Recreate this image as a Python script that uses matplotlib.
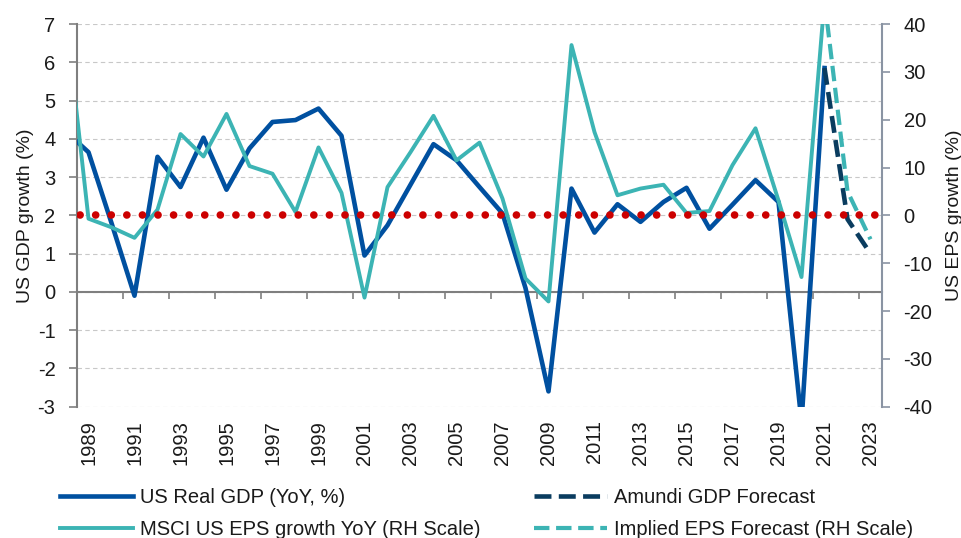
import numpy as np
import matplotlib
matplotlib.use('Agg')
import matplotlib.pyplot as plt
from matplotlib import font_manager
import matplotlib.transforms as mtransforms

# pick a narrow arial-like font if it is there
names = {f.name for f in font_manager.fontManager.ttflist}
fam = 'Liberation Sans Narrow' if 'Liberation Sans Narrow' in names else 'Liberation Sans'
plt.rcParams['font.family'] = [fam, 'DejaVu Sans']
plt.rcParams['axes.unicode_minus'] = False

# data
years = list(range(1988, 2022))
gdp = [4.2, 3.65, 1.8, -0.1, 3.53, 2.74, 4.03, 2.67, 3.75, 4.44, 4.49, 4.79,
       4.08, 0.95, 1.74, 2.8, 3.86, 3.44, 2.74, 2.05, 0.1, -2.6, 2.7, 1.55,
       2.29, 1.83, 2.35, 2.72, 1.65, 2.28, 2.92, 2.35, -3.4, 5.85]
eps = [42.4, -0.7, -2.5, -4.7, 1.2, 17.0, 12.3, 21.2, 10.3, 8.7, 0.7, 14.2,
       4.7, -17.2, 5.9, 13.2, 20.8, 11.5, 15.2, 3.5, -13.2, -18.0, 35.6, 17.4,
       4.2, 5.6, 6.4, 0.5, 0.9, 10.5, 18.2, 3.1, -12.9, 45.0]
fc_years = [2021, 2022, 2023]
gdp_fc = [5.85, 1.9, 1.0]
eps_fc = [45.0, 5.0, -5.0]
eps_zero = 0

label_years = list(range(1989, 2024, 2))
tick_years = np.arange(1990.5, 2023, 2)

blue = '#0050A0'
teal = '#3CB4B4'
navy = '#0A3C5F'
red = '#CC0000'

fig = plt.figure(figsize=(9.61, 5.38), dpi=100)
ax = fig.add_axes([77/961, 1-406.7/538, 805/961, 382.7/538])
ax2 = ax.twinx()

l1, = ax.plot(years, gdp, color=blue, lw=3.3, label='US Real GDP (YoY, %)', zorder=3)
l3, = ax.plot(fc_years, gdp_fc, color=navy, lw=3.3, ls='--', label='Amundi GDP Forecast', zorder=3)
l2, = ax2.plot(years, eps, color=teal, lw=2.8, label='MSCI US EPS growth YoY (RH Scale)', zorder=3)
l4, = ax2.plot(fc_years, eps_fc, color=teal, lw=3.0, ls='--', label='Implied EPS Forecast (RH Scale)', zorder=3)
# dotted zero line for EPS (= 2% GDP)
ax2.axhline(eps_zero, color=red, lw=5.5, ls=(1.64, (0.01, 2.03)), dash_capstyle='round', zorder=5)

ax.set_xlim(1988.5, 2023.5)
ax.set_ylim(-3, 7)
ax2.set_ylim(-40, 40)
ax.set_yticks(range(-3, 8))
ax2.set_yticks(range(-40, 41, 10))

ax.grid(axis='y', color='#C8C8C8', lw=0.8, ls=(0, (4, 3)))
ax.set_axisbelow(True)

for a in (ax, ax2):
    a.spines['top'].set_visible(False)
ax.spines['right'].set_visible(False)
ax2.spines['left'].set_visible(False)
ax2.spines['bottom'].set_visible(False)
ax.spines['left'].set_color('#7F7F7F')
ax.spines['left'].set_linewidth(1.5)
ax2.spines['right'].set_color('#8A94A3')
ax2.spines['right'].set_linewidth(1.5)
ax.spines['bottom'].set_position(('data', 0))
ax.spines['bottom'].set_color('#7F7F7F')
ax.spines['bottom'].set_linewidth(1.5)

ax.set_xticks(tick_years)
ax.tick_params(axis='x', direction='out', length=5, width=1.2, color='#7F7F7F', labelbottom=False)
ax.tick_params(axis='y', direction='out', length=5.5, width=1.2, color='#7F7F7F', pad=10,
               labelsize=14.5, labelcolor='#1a1a1a')
ax2.tick_params(axis='y', direction='out', length=5.5, width=1.2, color='#8A94A3', pad=10,
                labelsize=14.5, labelcolor='#1a1a1a')

# year labels under the plot area
trans = mtransforms.blended_transform_factory(ax.transData, ax.transAxes)
for yr in label_years:
    ax.text(yr, -0.035, str(yr), transform=trans, rotation=90, ha='center', va='top',
            fontsize=14.5, color='#1a1a1a')

ax.set_ylabel('US GDP growth (%)', fontsize=14, color='#1a1a1a')
ax.yaxis.set_label_coords(-0.054, 0.5)
ax2.set_ylabel('US EPS growth (%)', fontsize=14, color='#1a1a1a')
ax2.yaxis.set_label_coords(1.079, 0.5)

leg_kw = dict(loc='upper left', frameon=False, fontsize=14.5, handlelength=3.6,
              handletextpad=0.35, borderpad=0, borderaxespad=0, labelspacing=0.65,
              labelcolor='#1a1a1a')
fig.legend(handles=[l1, l2], bbox_to_anchor=(60/961, 1-488/538), **leg_kw)
fig.legend(handles=[l3, l4], bbox_to_anchor=(534/961, 1-488/538), **leg_kw)

plt.savefig('out.png', dpi=100)
